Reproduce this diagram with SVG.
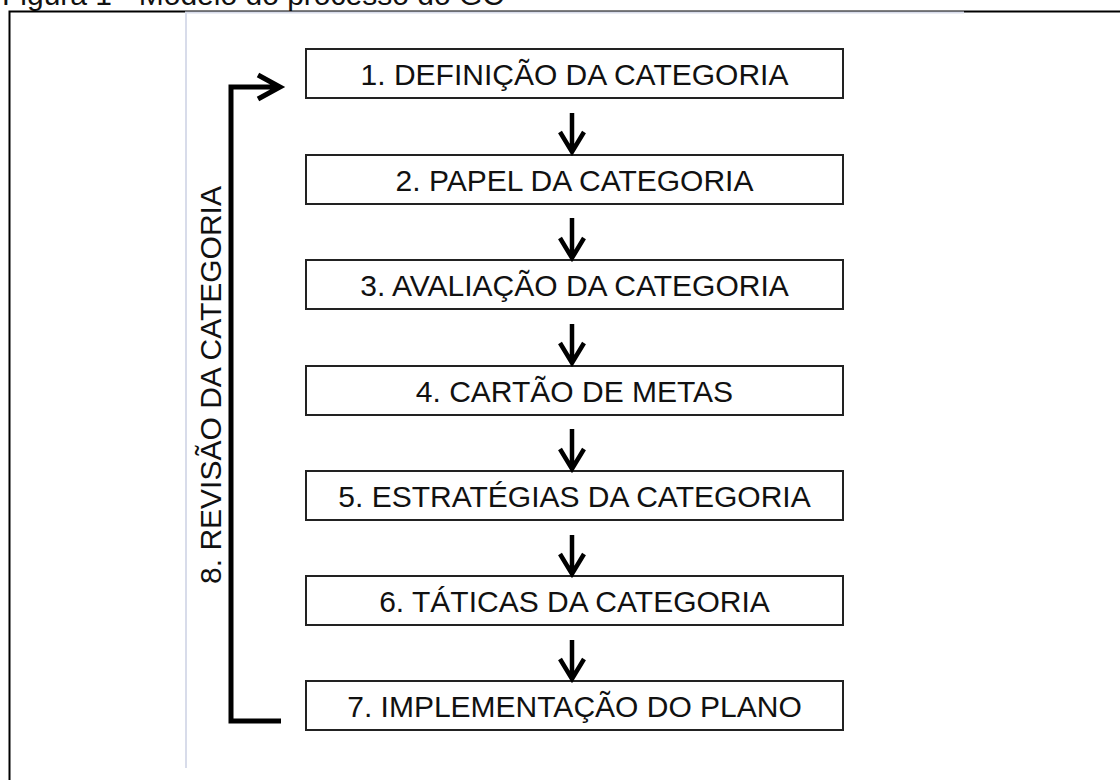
<svg xmlns="http://www.w3.org/2000/svg" width="1120" height="780" viewBox="0 0 1120 780">
<style>
.box{fill:#fff;stroke:#222;stroke-width:2}
.lbl{font-family:"Liberation Sans",Arial,sans-serif;font-size:30px;fill:#111;text-anchor:middle}
.con{fill:none;stroke:#000;stroke-width:4.5;stroke-linecap:butt;stroke-linejoin:miter}
.loop{fill:none;stroke:#000;stroke-width:5;stroke-linejoin:miter}
</style>
<rect width="1120" height="780" fill="#fff"/>
<text x="2" y="5" font-family="'Liberation Sans',Arial,sans-serif" font-size="30" fill="#111">Figura 1 - Modelo do processo do GC</text>
<rect x="9.5" y="11.5" width="1200" height="900" fill="none" stroke="#000" stroke-width="2"/>
<path d="M186 768 V12.5 H964" fill="none" stroke="#d8dcea" stroke-width="2"/>
<g id="node1"><rect class="box" x="306" y="49" width="537" height="49"/><text class="lbl" x="574.5" y="85">1. DEFINIÇÃO DA CATEGORIA</text></g>
<g id="node2"><rect class="box" x="306" y="155" width="537" height="49"/><text class="lbl" x="574.5" y="191">2. PAPEL DA CATEGORIA</text></g>
<g id="node3"><rect class="box" x="306" y="260" width="537" height="49"/><text class="lbl" x="574.5" y="296">3. AVALIAÇÃO DA CATEGORIA</text></g>
<g id="node4"><rect class="box" x="306" y="366" width="537" height="49"/><text class="lbl" x="574.5" y="402">4. CARTÃO DE METAS</text></g>
<g id="node5"><rect class="box" x="306" y="471" width="537" height="49"/><text class="lbl" x="574.5" y="507">5. ESTRATÉGIAS DA CATEGORIA</text></g>
<g id="node6"><rect class="box" x="306" y="576" width="537" height="49"/><text class="lbl" x="574.5" y="612">6. TÁTICAS DA CATEGORIA</text></g>
<g id="node7"><rect class="box" x="306" y="681" width="537" height="49"/><text class="lbl" x="574.5" y="717">7. IMPLEMENTAÇÃO DO PLANO</text></g>
<g id="node8"><text class="lbl" transform="translate(221 385) rotate(-90)">8. REVISÃO DA CATEGORIA</text></g>
<g id="connectors">
<path class="con" d="M572 113 V152 M560 132 L572 152 L584 132"/>
<path class="con" d="M572 218 V258 M560 238 L572 258 L584 238"/>
<path class="con" d="M572 324 V363 M560 343 L572 363 L584 343"/>
<path class="con" d="M572 429 V469 M560 449 L572 469 L584 449"/>
<path class="con" d="M572 535 V574 M560 554 L572 574 L584 554"/>
<path class="con" d="M572 640 V679 M560 659 L572 679 L584 659"/>
<path class="loop" d="M281 721 H231 V87 H280 M258 75 L280 87 L258 99"/>
</g>
</svg>
